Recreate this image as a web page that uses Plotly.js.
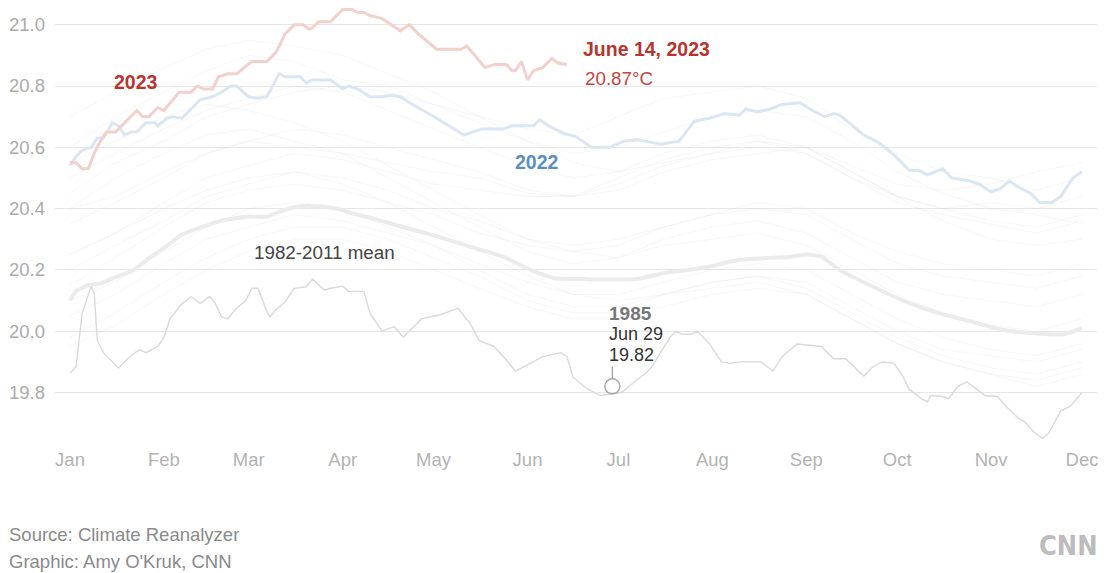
<!DOCTYPE html>
<html><head><meta charset="utf-8">
<script src="https://cdn.plot.ly/plotly-3.0.1.min.js"></script>
<style>html,body{margin:0;padding:0;background:#fff;} #chart{width:1110px;height:573px;}</style>
</head><body><div id="chart"></div>
<script>
// ---- axis labels ----
const monthTickDays = [0,31,59,90,120,151,181,212,243,273,304,334];
const monthLabels = ['Jan','Feb','Mar','Apr','May','Jun','Jul','Aug','Sep','Oct','Nov','Dec'];
const yTickVals = [19.8,20.0,20.2,20.4,20.6,20.8,21.0];
const yTickText = ['19.8','20.0','20.2','20.4','20.6','20.8','21.0'];

// ---- 2023 (day of year from Jan 1, °C) ----
const days2023 = [0,2,4,6,8,10,12,15,19,22,24,26,29,31,36,40,42,44,47,49,52,55,60,65,68,71,74,77,79,80,82,86,90,93,95,97,99,103,109,112,115,121,129,131,137,140,144,146,147,149,151,153,156,159,161,164];
const temp2023 = [20.55,20.55,20.53,20.53,20.58,20.62,20.65,20.65,20.69,20.72,20.70,20.70,20.73,20.72,20.78,20.78,20.80,20.79,20.79,20.83,20.84,20.84,20.88,20.88,20.91,20.97,21.00,21.00,20.985,20.99,21.01,21.01,21.05,21.05,21.04,21.04,21.03,21.02,20.98,21.00,20.97,20.92,20.92,20.93,20.86,20.87,20.87,20.85,20.85,20.88,20.82,20.85,20.86,20.89,20.875,20.87];

// ---- 2022 ----
const days2022 = [0,2,4,7,9,11,14,16,18,20,22,25,28,29,32,34,37,43,47,50,53,55,59,62,65,69,71,76,78,80,86,90,92,95,99,103,106,109,113,121,130,136,143,146,153,155,158,163,167,172,178,183,187,195,201,206,211,216,221,223,227,231,235,241,245,249,252,254,262,267,272,277,280,283,288,291,297,300,304,307,310,313,317,320,324,327,331,334];
const temp2022 = [20.54,20.57,20.59,20.60,20.63,20.63,20.68,20.67,20.64,20.65,20.65,20.68,20.68,20.67,20.695,20.70,20.695,20.755,20.765,20.78,20.80,20.80,20.765,20.76,20.765,20.84,20.83,20.83,20.81,20.82,20.82,20.79,20.80,20.79,20.765,20.765,20.77,20.765,20.74,20.695,20.64,20.66,20.66,20.67,20.67,20.69,20.67,20.645,20.635,20.60,20.60,20.62,20.625,20.61,20.62,20.685,20.695,20.71,20.705,20.725,20.715,20.725,20.74,20.745,20.72,20.70,20.71,20.705,20.64,20.615,20.575,20.525,20.525,20.51,20.53,20.50,20.49,20.48,20.455,20.465,20.49,20.47,20.45,20.42,20.42,20.44,20.50,20.52];

// ---- 1982-2011 mean ----
const daysMean = [0,2,6,10,15,21,26,32,37,43,48,54,59,65,70,76,82,88,93,99,110,121,132,143,152,160,170,187,196,204,212,221,238,243,248,254,265,276,287,298,307,318,328,334];
const tempMean = [20.10,20.13,20.15,20.156,20.176,20.20,20.238,20.278,20.316,20.338,20.355,20.368,20.374,20.374,20.393,20.408,20.408,20.40,20.385,20.37,20.34,20.31,20.276,20.243,20.20,20.173,20.17,20.17,20.19,20.20,20.213,20.233,20.243,20.25,20.243,20.20,20.145,20.096,20.058,20.03,20.006,19.993,19.99,20.01];

// ---- 1985 ----
const days1985 = [0,2,4,7,8,9,11,13,16,20,23,25,29,31,33,37,40,43,46,48,50,52,55,58,60,62,65,66,68,71,74,78,80,84,86,90,92,97,99,103,107,110,116,119,122,128,132,135,140,144,147,151,156,162,164,166,171,175,182,187,190,192,195,198,200,202,205,207,211,215,218,221,228,232,235,240,248,252,256,262,265,268,272,275,277,281,283,284,288,290,293,296,298,302,306,309,313,315,318,321,323,327,330,334];
const temp1985 = [19.863,19.884,20.058,20.147,20.124,19.97,19.93,19.91,19.88,19.92,19.94,19.93,19.95,19.98,20.04,20.09,20.113,20.09,20.113,20.09,20.047,20.04,20.075,20.10,20.14,20.14,20.064,20.047,20.07,20.096,20.14,20.145,20.17,20.134,20.14,20.147,20.13,20.13,20.058,20.0,20.015,19.98,20.04,20.047,20.053,20.075,20.026,19.97,19.95,19.906,19.87,19.89,19.917,19.93,19.917,19.85,19.81,19.79,19.80,19.84,19.863,19.884,19.93,19.98,20.0,19.99,19.99,20.0,19.96,19.90,19.895,19.90,19.90,19.87,19.917,19.958,19.95,19.91,19.91,19.854,19.884,19.90,19.895,19.85,19.81,19.78,19.77,19.79,19.787,19.78,19.82,19.835,19.82,19.79,19.787,19.754,19.716,19.705,19.672,19.65,19.667,19.74,19.754,19.80];
const lowDay1985 = 179;
const lowTemp1985 = 19.82;

// ---- other years (faint background, estimated) ----
const bgDays = [0,15,31,45,59,74,90,105,120,135,151,166,181,196,212,227,243,258,273,288,304,319,334];
const y2016 = [20.70,20.78,20.86,20.92,20.95,20.93,20.90,20.84,20.78,20.70,20.62,20.55,20.52,20.55,20.58,20.60,20.58,20.50,20.42,20.38,20.35,20.32,20.36];
const y2020 = [20.60,20.70,20.78,20.85,20.90,20.88,20.82,20.80,20.74,20.68,20.62,20.58,20.60,20.65,20.70,20.72,20.70,20.62,20.52,20.45,20.40,20.38,20.35];
const y2019 = [20.45,20.55,20.62,20.70,20.74,20.78,20.80,20.78,20.74,20.70,20.66,20.64,20.70,20.76,20.78,20.80,20.76,20.66,20.58,20.52,20.50,20.46,20.50];
const y2017 = [20.50,20.58,20.66,20.72,20.76,20.80,20.78,20.72,20.66,20.60,20.54,20.50,20.52,20.58,20.62,20.64,20.60,20.52,20.44,20.36,20.30,20.28,20.30];
const y2018 = [20.35,20.42,20.50,20.58,20.62,20.66,20.64,20.60,20.56,20.52,20.46,20.44,20.46,20.52,20.56,20.58,20.60,20.52,20.44,20.40,20.42,20.40,20.44];
const y2021 = [20.40,20.44,20.52,20.58,20.62,20.60,20.58,20.55,20.52,20.50,20.45,20.44,20.50,20.56,20.60,20.62,20.58,20.50,20.44,20.40,20.36,20.34,20.38];
const y2015 = [20.25,20.32,20.42,20.50,20.54,20.58,20.56,20.52,20.48,20.46,20.44,20.44,20.48,20.54,20.58,20.62,20.60,20.54,20.48,20.46,20.48,20.52,20.55];
const y2010 = [20.40,20.50,20.58,20.64,20.66,20.62,20.58,20.50,20.42,20.34,20.26,20.22,20.24,20.30,20.34,20.36,20.32,20.24,20.16,20.12,20.10,20.08,20.12];
const y1998 = [20.55,20.62,20.70,20.74,20.72,20.68,20.62,20.54,20.46,20.38,20.30,20.26,20.24,20.28,20.30,20.32,20.28,20.20,20.12,20.06,20.02,20.00,20.04];
const y2005 = [20.20,20.28,20.36,20.44,20.48,20.52,20.50,20.46,20.40,20.36,20.30,20.28,20.30,20.34,20.38,20.40,20.38,20.30,20.22,20.18,20.16,20.14,20.18];
const y1990 = [20.05,20.12,20.22,20.30,20.34,20.38,20.36,20.32,20.28,20.22,20.16,20.12,20.12,20.16,20.20,20.22,20.20,20.12,20.04,19.98,19.94,19.92,19.96];
const y1995 = [20.10,20.16,20.26,20.34,20.40,20.42,20.40,20.34,20.28,20.20,20.12,20.08,20.08,20.12,20.16,20.18,20.14,20.06,19.98,19.92,19.88,19.86,19.90];
const y1983 = [20.25,20.32,20.40,20.46,20.50,20.52,20.48,20.42,20.34,20.26,20.18,20.12,20.10,20.12,20.14,20.16,20.12,20.04,19.96,19.90,19.86,19.84,19.88];
const y1989 = [19.95,20.02,20.12,20.20,20.26,20.30,20.30,20.26,20.20,20.14,20.08,20.04,20.04,20.08,20.12,20.14,20.12,20.04,19.96,19.90,19.86,19.82,19.86];
const y2000 = [19.98,20.06,20.16,20.24,20.30,20.34,20.34,20.30,20.24,20.18,20.10,20.06,20.06,20.12,20.16,20.18,20.16,20.08,20.00,19.94,19.92,19.90,19.94];
const y2012 = [20.15,20.24,20.34,20.42,20.46,20.48,20.46,20.42,20.38,20.32,20.28,20.26,20.28,20.34,20.38,20.42,20.40,20.32,20.26,20.22,20.20,20.18,20.22];
const bgYears = [y2016,y2020,y2019,y2017,y2018,y2021,y2015,y2010,y1998,y2005,y1990,y1995,y1983,y1989,y2000,y2012];

const FONT = 'Liberation Sans, Arial, Helvetica, sans-serif';
const traces = [];
bgYears.forEach(v => traces.push({
  x: bgDays, y: v, type: 'scatter', mode: 'lines', hoverinfo: 'skip',
  line: {color: 'rgba(200,200,200,0.16)', width: 1}
}));
traces.push({x: days1985, y: temp1985, type: 'scatter', mode: 'lines', hoverinfo: 'skip',
  line: {color: '#d9d9d9', width: 1.4}});
traces.push({x: daysMean, y: tempMean, type: 'scatter', mode: 'lines', hoverinfo: 'skip',
  line: {color: '#ebebeb', width: 4, shape: 'spline', smoothing: 0.5}});
traces.push({x: days2022, y: temp2022, type: 'scatter', mode: 'lines', hoverinfo: 'skip',
  line: {color: '#dce6f2', width: 3}});
traces.push({x: days2023, y: temp2023, type: 'scatter', mode: 'lines', hoverinfo: 'skip',
  line: {color: '#f2d0cc', width: 3}});
traces.push({x: [lowDay1985], y: [lowTemp1985], type: 'scatter', mode: 'markers', hoverinfo: 'skip',
  marker: {symbol: 'circle-open', size: 15, color: '#a8a8a8', line: {color: '#a8a8a8', width: 1.5}}});

const red = '#b8342d';
const annotations = [
  {x: 14, y: 20.813, text: '<b>2023</b>', font: {size: 19.5, color: red}},
  {x: 168.6, y: 20.921, text: '<b>June 14, 2023</b>', font: {size: 19.5, color: red}},
  {x: 169.3, y: 20.826, text: '20.87°C', font: {size: 18.8, color: '#c0463f'}},
  {x: 146.2, y: 20.552, text: '<b>2022</b>', font: {size: 19.5, color: '#5b8fc2'}},
  {x: 60.1, y: 20.258, text: '1982-2011 mean', font: {size: 18.8, color: '#444'}},
  {x: 177.2, y: 20.059, text: '<b>1985</b>', font: {size: 19, color: '#777'}},
  {x: 177.2, y: 19.991, text: 'Jun 29', font: {size: 18, color: '#333'}},
  {x: 177.2, y: 19.922, text: '19.82', font: {size: 18, color: '#333'}}
].map(a => Object.assign({xref: 'x', yref: 'y', xanchor: 'left', yanchor: 'middle', showarrow: false}, a));

annotations.push(
  {xref: 'paper', yref: 'paper', x: -0.0461, y: -0.2045, xanchor: 'left', yanchor: 'middle', showarrow: false,
   text: 'Source: Climate Reanalyzer', font: {size: 18.5, color: '#8a8a8a'}},
  {xref: 'paper', yref: 'paper', x: -0.0461, y: -0.2659, xanchor: 'left', yanchor: 'middle', showarrow: false,
   text: "Graphic: Amy O'Kruk, CNN", font: {size: 18.5, color: '#8a8a8a'}},
  {xref: 'paper', yref: 'paper', x: 0.9722, y: -0.2273, xanchor: 'center', yanchor: 'middle', showarrow: false,
   text: '<b>CNN</b>', font: {size: 27, color: '#bcbcbc', family: 'Liberation Sans Narrow, DejaVu Sans Condensed, Arial Narrow, sans-serif'}}
);

const layout = {
  width: 1110, height: 573,
  margin: {l: 55, r: 13, t: 5, b: 128},
  paper_bgcolor: '#fff', plot_bgcolor: '#fff',
  font: {family: FONT},
  showlegend: false, hovermode: false,
  xaxis: {range: [-4.95, 338.95], tickmode: 'array', tickvals: monthTickDays, ticktext: monthLabels,
    showgrid: false, zeroline: false, showline: false, ticks: '', ticklabelstandoff: 1,
    tickfont: {size: 18.5, color: '#b3b3b3'}, fixedrange: true},
  yaxis: {range: [19.6287, 21.0643], tickmode: 'array', tickvals: yTickVals, ticktext: yTickText,
    showgrid: true, gridcolor: '#e6e6e6', gridwidth: 1, zeroline: false, showline: false, ticks: '',
    ticklabelstandoff: 9, tickfont: {size: 18.5, color: '#ababab'}, fixedrange: true},
  shapes: [
    {type: 'line', xref: 'x', yref: 'y', x0: lowDay1985, x1: lowDay1985, ysizemode: 'pixel', yanchor: lowTemp1985,
     y0: 8, y1: 20, line: {color: '#a8a8a8', width: 1.5}}
  ],
  annotations: annotations
};

Plotly.newPlot('chart', traces, layout, {displayModeBar: false, staticPlot: true});
</script>
</body></html>
